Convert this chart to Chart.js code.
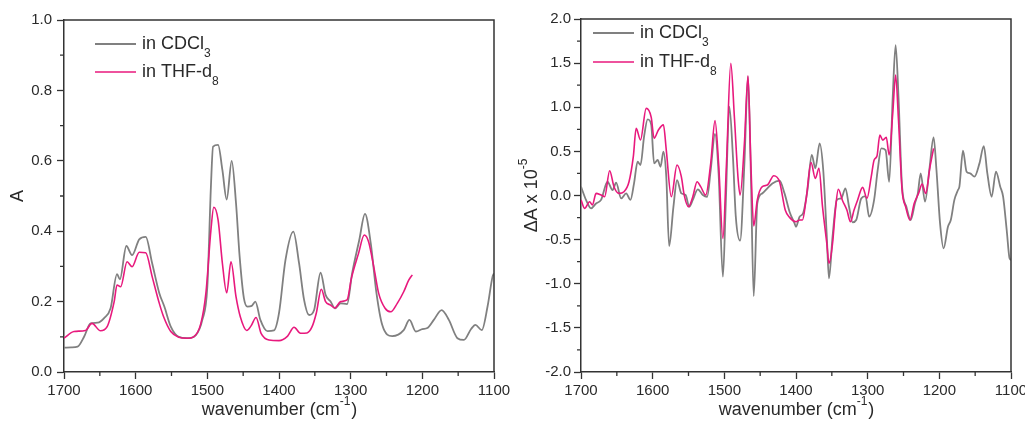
<!DOCTYPE html>
<html>
<head>
<meta charset="utf-8">
<script src="https://cdn.jsdelivr.net/npm/chart.js@4.4.1/dist/chart.umd.min.js"></script>
<style>
html, body { margin: 0; padding: 0; background: #fff; overflow: hidden; }
#wrap { position: relative; width: 1025px; height: 421px; }
canvas { position: absolute; top: 0; }
#left { left: 0; }
#right { left: 512px; }
</style>
</head>
<body>
<div id="wrap">
<canvas id="left" width="512" height="421"></canvas>
<canvas id="right" width="530" height="421"></canvas>
</div>
<script>
// absorbance spectra (left)
const absCdclWn = [1700, 1690, 1681, 1672, 1663, 1653, 1644, 1635, 1626, 1622, 1613, 1605, 1595, 1586, 1577, 1567, 1560, 1551, 1540, 1528, 1516, 1507, 1500, 1495, 1492, 1485, 1479, 1473, 1466, 1460, 1455, 1449, 1444, 1438, 1433, 1426, 1416, 1407, 1400, 1391, 1380, 1372, 1365, 1358, 1351, 1342, 1335, 1328, 1322, 1314, 1305, 1298, 1288, 1280, 1272, 1264, 1256, 1242, 1226, 1218, 1209, 1200, 1193, 1184, 1173, 1163, 1151, 1142, 1132, 1126, 1117, 1109, 1102, 1100];
const absCdcl = [0.069, 0.070, 0.072, 0.100, 0.138, 0.140, 0.153, 0.181, 0.278, 0.263, 0.358, 0.332, 0.377, 0.384, 0.309, 0.224, 0.186, 0.129, 0.100, 0.096, 0.105, 0.148, 0.242, 0.527, 0.640, 0.645, 0.574, 0.490, 0.600, 0.480, 0.330, 0.210, 0.186, 0.188, 0.200, 0.148, 0.116, 0.118, 0.167, 0.318, 0.399, 0.309, 0.205, 0.162, 0.176, 0.282, 0.219, 0.200, 0.181, 0.195, 0.193, 0.280, 0.375, 0.449, 0.366, 0.224, 0.134, 0.102, 0.119, 0.148, 0.115, 0.122, 0.125, 0.148, 0.176, 0.148, 0.096, 0.091, 0.122, 0.134, 0.119, 0.186, 0.271, 0.280];
const absThfWn = [1700, 1686, 1670, 1661, 1649, 1640, 1630, 1626, 1621, 1612, 1605, 1595, 1586, 1577, 1567, 1561, 1551, 1540, 1528, 1519, 1509, 1502, 1495, 1491, 1485, 1479, 1473, 1467, 1460, 1454, 1445, 1439, 1432, 1425, 1414, 1400, 1388, 1379, 1370, 1361, 1354, 1348, 1341, 1335, 1328, 1322, 1314, 1305, 1299, 1289, 1281, 1275, 1267, 1261, 1252, 1244, 1235, 1226, 1219, 1214];
const absThf = [0.096, 0.115, 0.118, 0.138, 0.117, 0.128, 0.200, 0.247, 0.242, 0.313, 0.299, 0.340, 0.339, 0.271, 0.195, 0.157, 0.115, 0.099, 0.096, 0.100, 0.138, 0.224, 0.403, 0.468, 0.432, 0.309, 0.225, 0.313, 0.214, 0.157, 0.118, 0.131, 0.155, 0.110, 0.091, 0.089, 0.102, 0.127, 0.110, 0.111, 0.128, 0.167, 0.235, 0.200, 0.190, 0.182, 0.200, 0.205, 0.266, 0.337, 0.389, 0.370, 0.290, 0.224, 0.181, 0.171, 0.195, 0.228, 0.261, 0.276];

// difference spectra (right), units of 1e-5
const difCdclWn = [1700, 1693, 1686, 1679, 1672, 1663, 1656, 1651, 1644, 1637, 1631, 1626, 1621, 1617, 1612, 1607, 1602, 1598, 1593, 1589, 1585, 1581, 1577, 1571, 1566, 1560, 1554, 1549, 1544, 1537, 1530, 1524, 1519, 1513, 1508, 1502, 1498, 1493, 1488, 1484, 1478, 1472, 1467, 1463, 1459, 1454, 1447, 1440, 1433, 1423, 1416, 1409, 1402, 1400, 1395, 1390, 1384, 1378, 1373, 1367, 1362, 1357, 1354, 1349, 1343, 1337, 1331, 1326, 1321, 1316, 1309, 1303, 1298, 1291, 1286, 1281, 1275, 1270, 1265, 1261, 1257, 1252, 1246, 1240, 1234, 1230, 1226, 1220, 1214, 1208, 1204, 1199, 1194, 1188, 1184, 1179, 1174, 1172, 1167, 1162, 1157, 1151, 1144, 1138, 1133, 1127, 1121, 1115, 1111, 1106, 1102, 1100];
const difCdcl = [0.10, -0.05, -0.145, -0.09, -0.05, 0.156, 0.062, 0.145, -0.033, 0.024, -0.05, 0.137, 0.383, 0.345, 0.666, 0.863, 0.80, 0.364, 0.402, 0.326, 0.496, 0.213, -0.573, -0.127, 0.175, 0.024, 0.005, -0.127, -0.05, 0.07, 0.005, -0.014, 0.289, 0.697, 0.251, -0.92, -0.089, 1.006, 0.44, -0.24, -0.512, 0.364, 1.346, 0.251, -1.139, -0.089, 0.024, 0.081, 0.137, 0.168, 0.024, -0.184, -0.316, -0.354, -0.24, -0.2, 0.062, 0.459, 0.307, 0.591, 0.289, -0.467, -0.939, -0.467, -0.05, -0.033, 0.081, -0.127, -0.304, -0.278, -0.033, -0.006, -0.24, -0.05, 0.289, 0.534, 0.515, 0.156, 1.12, 1.705, 1.12, 0.10, -0.127, -0.278, -0.089, 0.024, 0.251, -0.07, 0.289, 0.659, 0.289, -0.316, -0.599, -0.354, -0.278, -0.05, 0.062, 0.10, 0.508, 0.27, 0.251, 0.213, 0.364, 0.56, 0.251, -0.014, 0.27, 0.10, -0.014, -0.391, -0.712, -0.731];
const difThfWn = [1700, 1695, 1688, 1684, 1679, 1672, 1667, 1660, 1654, 1647, 1640, 1633, 1627, 1623, 1617, 1609, 1602, 1598, 1592, 1585, 1581, 1574, 1566, 1560, 1556, 1550, 1544, 1538, 1533, 1526, 1519, 1513, 1508, 1502, 1497, 1491, 1486, 1481, 1478, 1472, 1467, 1463, 1459, 1454, 1447, 1440, 1431, 1423, 1415, 1409, 1400, 1395, 1391, 1386, 1379, 1373, 1368, 1363, 1357, 1354, 1349, 1345, 1341, 1335, 1329, 1324, 1319, 1314, 1307, 1301, 1295, 1291, 1287, 1283, 1279, 1274, 1270, 1265, 1261, 1257, 1252, 1247, 1241, 1235, 1229, 1224, 1219, 1213, 1208];
const difThf = [-0.05, -0.146, -0.07, -0.108, 0.024, 0.005, -0.014, 0.281, 0.10, 0.024, 0.043, 0.156, 0.44, 0.761, 0.629, 0.987, 0.885, 0.648, 0.742, 0.80, 0.515, -0.014, 0.345, 0.213, 0.005, -0.127, -0.014, 0.156, 0.10, 0.005, 0.364, 0.848, 0.364, -0.486, 0.364, 1.497, 0.893, 0.213, 0.005, 0.591, 1.357, 0.364, -0.346, -0.05, 0.10, 0.118, 0.224, 0.156, -0.165, -0.248, -0.297, -0.278, -0.278, -0.05, 0.372, 0.194, 0.307, -0.127, -0.543, -0.769, -0.543, -0.165, 0.07, -0.059, -0.165, -0.297, -0.165, -0.05, 0.092, -0.033, 0.213, 0.402, 0.447, 0.685, 0.628, 0.659, 0.459, 0.931, 1.365, 0.855, 0.062, -0.127, -0.278, -0.089, 0.024, 0.13, 0.024, 0.326, 0.534];

const seriesNames = ['in CDCl', 'in THF-d'];
const seriesSubs = ['3', '8'];
const xTicks = [1100, 1700, 100];

const FONT = '"Liberation Sans", Arial, sans-serif';
const AXIS = '#333';
const TXT = '#2a2a2a';
const GRAY = '#808080';
const PINK = '#e8197d';

function rich(ctx, parts, x, y, align) {
  const big = '18px ' + FONT, small = '12px ' + FONT;
  let w = 0;
  parts.forEach(p => { ctx.font = p[1] ? small : big; w += ctx.measureText(p[0]).width; });
  let cx = align === 'center' ? x - w / 2 : x;
  ctx.fillStyle = TXT;
  ctx.textAlign = 'left';
  ctx.textBaseline = 'middle';
  parts.forEach(p => {
    ctx.font = p[1] ? small : big;
    const dy = p[1] === 1 ? 10 : p[1] === -1 ? -8 : 0;
    ctx.fillText(p[0], cx, y + dy);
    cx += ctx.measureText(p[0]).width + (p[1] === -1 ? 1 : 0);
  });
}

const decor = {
  id: 'decor',
  afterDraw(chart, args, o) {
    const ctx = chart.ctx, a = chart.chartArea;
    const xs = chart.scales.x, ys = chart.scales.y;
    ctx.save();
    ctx.strokeStyle = AXIS;
    ctx.lineWidth = 1.5;
    ctx.beginPath();
    ctx.moveTo(a.left, a.top);
    ctx.lineTo(a.right, a.top);
    ctx.lineTo(a.right, a.bottom);
    ctx.stroke();

    // minor ticks halfway between the major ones
    const mids = s => s.ticks.slice(1).map((t, i) => (t.value + s.ticks[i].value) / 2);
    ctx.lineWidth = 1.3;
    ctx.beginPath();
    mids(xs).forEach(v => {
      const px = xs.getPixelForValue(v);
      ctx.moveTo(px, a.bottom);
      ctx.lineTo(px, a.bottom + 4);
    });
    mids(ys).forEach(v => {
      const py = ys.getPixelForValue(v);
      ctx.moveTo(a.left, py);
      ctx.lineTo(a.left - 4, py);
    });
    ctx.stroke();

    // legend
    chart.data.datasets.forEach((ds, i) => {
      const y = a.top + o.legendTop + i * o.legendGap;
      const x0 = a.left + o.legendLeft;
      ctx.strokeStyle = ds.borderColor;
      ctx.lineWidth = ds.borderWidth;
      ctx.beginPath();
      ctx.moveTo(x0, y);
      ctx.lineTo(x0 + 41, y);
      ctx.stroke();
      rich(ctx, [[seriesNames[i], 0], [seriesSubs[i], 1]], x0 + 47, y, 'left');
    });

    // axis titles
    rich(ctx, [['wavenumber (cm', 0], ['-1', -1], [')', 0]], (a.left + a.right) / 2, a.bottom + 38, 'center');
    ctx.translate(a.left - o.yTitleOffset, (a.top + a.bottom) / 2);
    ctx.rotate(-Math.PI / 2);
    rich(ctx, o.yTitle, 0, 0, 'center');
    ctx.restore();
  }
};

function pts(xs, ys) {
  return xs.map((x, i) => ({ x: x, y: ys[i] }));
}

function makeChart(id, sets, y, opts) {
  return new Chart(document.getElementById(id), {
    type: 'line',
    data: {
      datasets: [{
        label: seriesNames[0] + seriesSubs[0],
        data: pts(sets[0], sets[1]),
        borderColor: GRAY,
        borderWidth: 1.8,
        order: 2
      }, {
        label: seriesNames[1] + seriesSubs[1],
        data: pts(sets[2], sets[3]),
        borderColor: PINK,
        borderWidth: 1.6,
        order: 1
      }]
    },
    options: {
      responsive: false,
      animation: false,
      devicePixelRatio: 1,
      layout: { padding: opts.padding },
      elements: {
        point: { radius: 0 },
        line: { cubicInterpolationMode: 'monotone', fill: false }
      },
      scales: {
        x: {
          type: 'linear',
          reverse: true,
          min: xTicks[0],
          max: xTicks[1],
          afterFit: s => { s.height = 49; s.paddingLeft = 0; s.paddingRight = 0; },
          border: { display: true, color: AXIS, width: 1.5 },
          grid: { drawOnChartArea: false, drawTicks: true, tickLength: 7, tickColor: AXIS, tickWidth: 1.3 },
          ticks: {
            stepSize: xTicks[2],
            padding: 3,
            color: TXT,
            autoSkip: false,
            maxRotation: 0,
            font: { size: 15, family: FONT },
            callback: v => String(v)
          }
        },
        y: {
          type: 'linear',
          min: y[0],
          max: y[1],
          afterFit: s => { s.width = opts.yWidth; s.paddingTop = 0; s.paddingBottom = 0; },
          border: { display: true, color: AXIS, width: 1.5 },
          grid: { drawOnChartArea: false, drawTicks: true, tickLength: 7, tickColor: AXIS, tickWidth: 1.3 },
          ticks: {
            stepSize: y[2],
            padding: opts.yPad,
            color: TXT,
            autoSkip: false,
            font: { size: 15, family: FONT },
            callback: v => v.toFixed(1)
          }
        }
      },
      plugins: {
        legend: { display: false },
        tooltip: { enabled: false },
        decor: opts.decor
      }
    },
    plugins: [decor]
  });
}

makeChart('left', [absCdclWn, absCdcl, absThfWn, absThf], [0, 1, 0.2], {
  padding: { top: 20, right: 18, left: 0, bottom: 0 },
  yWidth: 64,
  yPad: 5,
  decor: { legendLeft: 31, legendTop: 24, legendGap: 28, yTitleOffset: 46, yTitle: [['A', 0]] }
});

makeChart('right', [difCdclWn, difCdcl, difThfWn, difThf], [-2, 2, 0.5], {
  padding: { top: 19, right: 31, left: 0, bottom: 0 },
  yWidth: 69,
  yPad: 3,
  decor: { legendLeft: 12, legendTop: 14, legendGap: 29, yTitleOffset: 49, yTitle: [['\u0394A x 10', 0], ['-5', -1]] }
});
</script>
</body>
</html>
